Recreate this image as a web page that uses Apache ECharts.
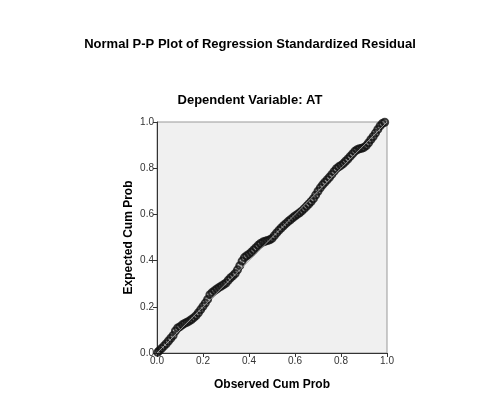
<!DOCTYPE html>
<html>
<head>
<meta charset="utf-8">
<script src="https://cdn.jsdelivr.net/npm/echarts@6/dist/echarts.min.js"></script>
<style>
  html, body { margin: 0; padding: 0; background: #fff; }
  #chart { width: 500px; height: 400px; }
</style>
</head>
<body>
<div id="chart"></div>
<script>
// observed cumulative probability (x) and expected cumulative probability (y)
var observedCum = [
  0.003, 0.01, 0.02, 0.03, 0.04, 0.05, 0.06, 0.07, 0.08, 0.09,
  0.10, 0.11, 0.12, 0.13, 0.14, 0.15, 0.16, 0.17, 0.18, 0.19,
  0.20, 0.21, 0.22, 0.23, 0.24, 0.25, 0.26, 0.27, 0.28, 0.29,
  0.30, 0.31, 0.32, 0.33, 0.34, 0.35, 0.36, 0.37, 0.38, 0.39,
  0.40, 0.41, 0.42, 0.43, 0.44, 0.45, 0.46, 0.47, 0.48, 0.49,
  0.50, 0.51, 0.52, 0.53, 0.54, 0.55, 0.56, 0.57, 0.58, 0.59,
  0.60, 0.61, 0.62, 0.63, 0.64, 0.65, 0.66, 0.67, 0.68, 0.69,
  0.70, 0.71, 0.72, 0.73, 0.74, 0.75, 0.76, 0.77, 0.78, 0.79,
  0.80, 0.81, 0.82, 0.83, 0.84, 0.85, 0.86, 0.87, 0.88, 0.89,
  0.90, 0.91, 0.92, 0.93, 0.94, 0.95, 0.96, 0.97, 0.98, 0.99
];
var expectedCum = [
  0.003, 0.010, 0.020, 0.030, 0.040, 0.052, 0.064, 0.076, 0.095, 0.108,
  0.114, 0.122, 0.128, 0.133, 0.138, 0.145, 0.153, 0.162, 0.174, 0.188,
  0.202, 0.216, 0.232, 0.252, 0.262, 0.270, 0.277, 0.284, 0.290, 0.296,
  0.303, 0.315, 0.326, 0.334, 0.344, 0.360, 0.378, 0.398, 0.413, 0.421,
  0.428, 0.436, 0.446, 0.456, 0.466, 0.474, 0.480, 0.484, 0.487, 0.490,
  0.496, 0.508, 0.520, 0.531, 0.541, 0.551, 0.560, 0.569, 0.577, 0.585,
  0.593, 0.600, 0.607, 0.615, 0.625, 0.635, 0.645, 0.656, 0.668, 0.684,
  0.700, 0.715, 0.728, 0.739, 0.750, 0.761, 0.773, 0.786, 0.798, 0.806,
  0.812, 0.820, 0.830, 0.840, 0.851, 0.862, 0.873, 0.880, 0.884, 0.886,
  0.890, 0.898, 0.910, 0.924, 0.937, 0.952, 0.968, 0.983, 0.994, 0.999
];
var refLine = [[0, 0], [1, 1]];

var points = observedCum.map(function (x, i) { return [x, expectedCum[i]]; });

var chart = echarts.init(document.getElementById('chart'));

var labelStyle = { color: '#333', fontSize: 10, fontFamily: 'Liberation Sans', margin: 3,
  formatter: function (v) { return v.toFixed(1); } };
var nameStyle = { fontFamily: 'Liberation Sans', fontSize: 12, fontWeight: 'bold', color: '#000' };

var option = {
  animation: false,
  backgroundColor: '#fff',
  title: [
    {
      text: 'Normal P-P Plot of Regression Standardized Residual',
      left: 'center', top: 38, padding: 0,
      textStyle: { fontFamily: 'Liberation Sans', fontSize: 13, fontWeight: 'bold', color: '#000' }
    },
    {
      text: 'Dependent Variable: AT',
      left: 'center', top: 94, padding: 0,
      textStyle: { fontFamily: 'Liberation Sans', fontSize: 13, fontWeight: 'bold', color: '#000' }
    }
  ],
  grid: {
    left: 157, right: 113, top: 122, bottom: 47,
    show: true, backgroundColor: '#f0f0f0', borderColor: '#999', borderWidth: 1
  },
  xAxis: {
    type: 'value', min: 0, max: 1, interval: 0.2,
    name: 'Observed Cum Prob', nameLocation: 'middle', nameGap: 26,
    nameTextStyle: nameStyle,
    axisLine: { show: true, lineStyle: { color: '#333', width: 1 } },
    axisTick: { show: true, length: 4, lineStyle: { color: '#333' } },
    axisLabel: labelStyle,
    splitLine: { show: false }
  },
  yAxis: {
    type: 'value', min: 0, max: 1, interval: 0.2,
    name: 'Expected Cum Prob', nameLocation: 'middle', nameGap: 22,
    nameTextStyle: nameStyle,
    axisLine: { show: true, lineStyle: { color: '#333', width: 1 } },
    axisTick: { show: true, length: 4, lineStyle: { color: '#333' } },
    axisLabel: labelStyle,
    splitLine: { show: false }
  },
  series: [
    {
      type: 'scatter',
      data: points,
      symbol: 'circle',
      symbolSize: 7,
      itemStyle: { color: 'rgba(40,40,40,0.35)', borderColor: '#111', borderWidth: 2 },
      z: 2
    },
    {
      type: 'line',
      data: refLine,
      symbol: 'none',
      lineStyle: { color: '#999', width: 1 },
      z: 3
    }
  ]
};

chart.setOption(option);
</script>
</body>
</html>
